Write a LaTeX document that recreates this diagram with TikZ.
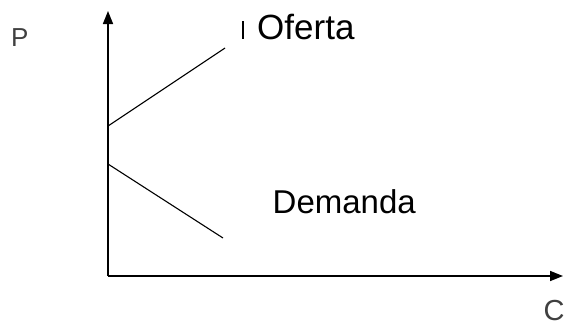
\documentclass[tikz,border=0pt]{standalone}
\usepackage{fontspec}
\setmainfont{Liberation Sans}
\usetikzlibrary{arrows.meta}
\begin{document}
\begin{tikzpicture}[x=1pt,y=-1pt,
  axis/.style={line width=1.6pt,-{Triangle[length=13pt,width=10pt]}},
  curve/.style={line width=1.1pt},
  lbl/.style={inner sep=0pt,anchor=base west}]
\useasboundingbox (0,0) rectangle (567,325);
\coordinate (O) at (108,276);
\coordinate (Ptop) at (108,11);
\coordinate (Cend) at (563,276);
\coordinate (S0) at (108,126);
\coordinate (S1) at (225,48);
\coordinate (D0) at (108,164);
\coordinate (D1) at (223,238);
\coordinate (m0) at (243,21);
\coordinate (m1) at (243,39);
\draw[axis] (O) -- (Ptop);
\draw[axis] (O) -- (Cend);
\draw[curve] (S0) -- (S1);
\draw[curve] (D0) -- (D1);
\draw[line width=1.8pt] (m0) -- (m1);
\node[lbl,font=\fontsize{35}{40}\selectfont] (of) at (257,39) {Oferta};
\node[lbl,font=\fontsize{33}{38}\selectfont] (de) at (272.5,213) {Demanda};
\node[lbl,font=\fontsize{26}{30}\selectfont,text=black!75] (p) at (11,46) {P};
\node[lbl,font=\fontsize{29}{34}\selectfont,text=black!75] (c) at (543.5,320) {C};
\end{tikzpicture}
\end{document}
